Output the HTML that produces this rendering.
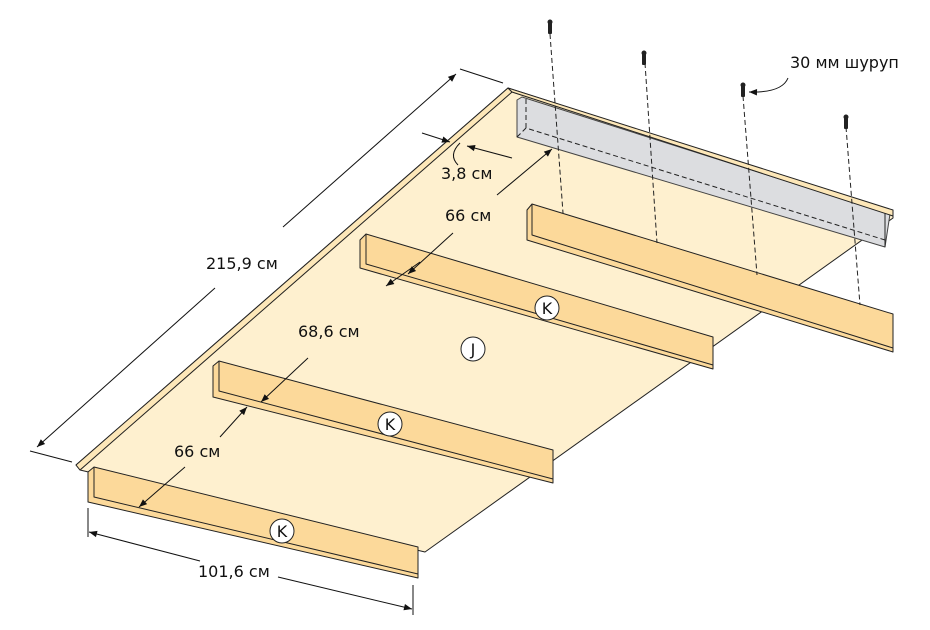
<!DOCTYPE html>
<html><head><meta charset="utf-8"><style>
body{margin:0;background:#fff}
svg{display:block}
text{font-family:"DejaVu Sans","Liberation Sans",sans-serif;font-size:16px;fill:#111}
</style></head><body>
<svg width="930" height="630" viewBox="0 0 930 630" xmlns="http://www.w3.org/2000/svg">
<defs>
<marker id="a" viewBox="0 0 10 10" refX="10" refY="5" markerWidth="12" markerHeight="8" orient="auto-start-reverse"><path d="M0,1 L10,5 L0,9 Z" fill="#111"/></marker>
</defs>
<g stroke="#222" stroke-width="1" stroke-linejoin="round">
<polygon points="76,465 508,88 893,212 893,218 425,552 80,470" fill="#fef0cf"/>
<polyline points="80,470 512,92 893,214" fill="none" stroke="#8a7a5a"/>
<polygon points="76,465 508,88 512,92 80,470" fill="#fde7b8"/>
<polygon points="517,100 522,97 890,214 885,247 517,137" fill="#dcdde0" stroke="#444"/>
<polyline points="517,137 526,128 885,240" fill="none" stroke-dasharray="5,3"/>
<line x1="526" y1="128" x2="526" y2="98" stroke-dasharray="5,3"/>
<line x1="885" y1="213" x2="885" y2="247"/>
<polygon points="508,88 893,210 893,216 512,92" fill="#fde7b8"/>
<g fill="#fcd99a">
<polygon points="527,210 532,204 893,314 893,352 527,240"/>
<polyline points="532,204 532,235 893,348" fill="none"/>
<polygon points="360,240 366,234 713,337 713,369 360,268"/>
<polyline points="366,234 366,264 713,365" fill="none"/>
<polygon points="213,366 219,361 553,450 553,483 213,397"/>
<polyline points="219,361 219,391 553,479" fill="none"/>
<polygon points="88,472 94,467 418,547 418,578 88,502"/>
<polyline points="94,467 94,497 418,574" fill="none"/>
</g>
<g stroke-dasharray="5,3" fill="none">
<line x1="550" y1="34" x2="563" y2="213"/>
<line x1="645" y1="63" x2="657" y2="243"/>
<line x1="743" y1="96" x2="757" y2="275"/>
<line x1="846" y1="127" x2="860" y2="305"/>
</g>
</g>
<g fill="#222">
<rect x="548" y="21" width="4" height="13" rx="1"/><circle cx="550" cy="22" r="2.5"/>
<rect x="642" y="52" width="4" height="13" rx="1"/><circle cx="644" cy="53" r="2.5"/>
<rect x="741" y="84" width="4" height="13" rx="1"/><circle cx="743" cy="85" r="2.5"/>
<rect x="844" y="116" width="4" height="13" rx="1"/><circle cx="846" cy="117" r="2.5"/>
</g>
<g stroke="#111" stroke-width="1" fill="none">
<line x1="460" y1="69" x2="503" y2="83"/>
<line x1="30" y1="451" x2="72" y2="462"/>
<line x1="456" y1="74" x2="283" y2="227" marker-start="url(#a)"/>
<line x1="215" y1="288" x2="37" y2="447" marker-end="url(#a)"/>
<line x1="422" y1="133" x2="450" y2="142" marker-end="url(#a)"/>
<line x1="512" y1="158" x2="467" y2="146" marker-end="url(#a)"/>
<path d="M460,143 Q448,155 458,165"/>
<line x1="497" y1="195" x2="552" y2="149" marker-end="url(#a)"/>
<line x1="453" y1="233" x2="408" y2="274" marker-end="url(#a)"/>
<line x1="420" y1="262" x2="386" y2="286" marker-end="url(#a)"/>
<line x1="308" y1="358" x2="261" y2="402" marker-end="url(#a)"/>
<line x1="220" y1="437" x2="247" y2="407" marker-end="url(#a)"/>
<line x1="185" y1="467" x2="139" y2="507" marker-end="url(#a)"/>
<line x1="88" y1="508" x2="88" y2="537"/>
<line x1="413" y1="585" x2="413" y2="615"/>
<line x1="200" y1="561" x2="89" y2="532" marker-end="url(#a)"/>
<line x1="278" y1="577" x2="412" y2="609" marker-end="url(#a)"/>
<path d="M788,78 Q782,93 749,92" marker-end="url(#a)"/>
</g>
<g fill="#fff" stroke="#222">
<circle cx="547" cy="308" r="12"/><circle cx="390" cy="424" r="12"/><circle cx="282" cy="531" r="12"/><circle cx="473" cy="349" r="12"/>
</g>
<g text-anchor="middle">
<text x="547" y="314">K</text><text x="390" y="430">K</text><text x="282" y="537">K</text><text x="473" y="355">J</text>
</g>
<text x="790" y="68">30 мм шуруп</text>
<text x="441" y="179">3,8 см</text>
<text x="445" y="221">66 см</text>
<text x="206" y="269">215,9 см</text>
<text x="298" y="337">68,6 см</text>
<text x="174" y="457">66 см</text>
<text x="198" y="577">101,6 см</text>
</svg>
</body></html>
